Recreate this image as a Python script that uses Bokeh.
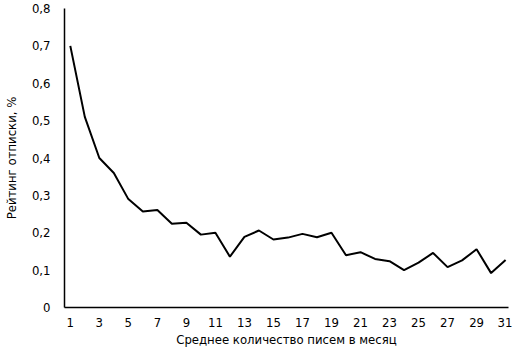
from bokeh.plotting import figure
from bokeh.models import FixedTicker, Range1d
from bokeh.embed import file_html
from bokeh.resources import INLINE

emails = list(range(1, 32))
rate = [0.70, 0.51, 0.40, 0.36, 0.29, 0.257, 0.261, 0.224, 0.227, 0.195,
        0.20, 0.136, 0.189, 0.206, 0.182, 0.187, 0.197, 0.188, 0.20, 0.14,
        0.148, 0.13, 0.124, 0.10, 0.12, 0.146, 0.108, 0.126, 0.156, 0.092, 0.127]
y_ticks = [0, 0.1, 0.2, 0.3, 0.4, 0.5, 0.6, 0.7, 0.8]
y_labels = ["0", "0,1", "0,2", "0,3", "0,4", "0,5", "0,6", "0,7", "0,8"]
x_ticks = list(range(1, 32, 2))

FONT = "DejaVu Sans Condensed"

p = figure(width=509, height=345, output_backend="svg", toolbar_location=None,
           x_range=Range1d(0.6, 31.2), y_range=Range1d(0, 0.8),
           min_border_left=61, min_border_right=4, min_border_top=8, min_border_bottom=36)
p.frame_width = 444
p.frame_height = 299
p.outline_line_color = None
p.xgrid.visible = False
p.ygrid.visible = False

p.line(emails, rate, line_color="black", line_width=2)

p.yaxis.ticker = FixedTicker(ticks=y_ticks)
p.yaxis.major_label_overrides = {t: l for t, l in zip(y_ticks, y_labels)}
p.xaxis.ticker = FixedTicker(ticks=x_ticks)

for ax in (p.xaxis[0], p.yaxis[0]):
    ax.axis_line_color = "black"
    ax.axis_line_width = 1.5
    ax.major_tick_line_color = None
    ax.minor_tick_line_color = None
    ax.major_label_text_font = FONT
    ax.major_label_text_font_size = "13px"
    ax.major_label_text_color = "black"
    ax.axis_label_text_font = FONT
    ax.axis_label_text_font_size = "13px"
    ax.axis_label_text_font_style = "normal"
    ax.axis_label_text_color = "black"

p.xaxis.axis_label = "Среднее количество писем в месяц"
p.yaxis.axis_label = "Рейтинг отписки, %"
p.xaxis.major_label_standoff = 4
p.yaxis.major_label_standoff = 8
p.xaxis.axis_label_standoff = 2
p.yaxis.axis_label_standoff = 10

open("out.html", "w").write(file_html(p, INLINE))
